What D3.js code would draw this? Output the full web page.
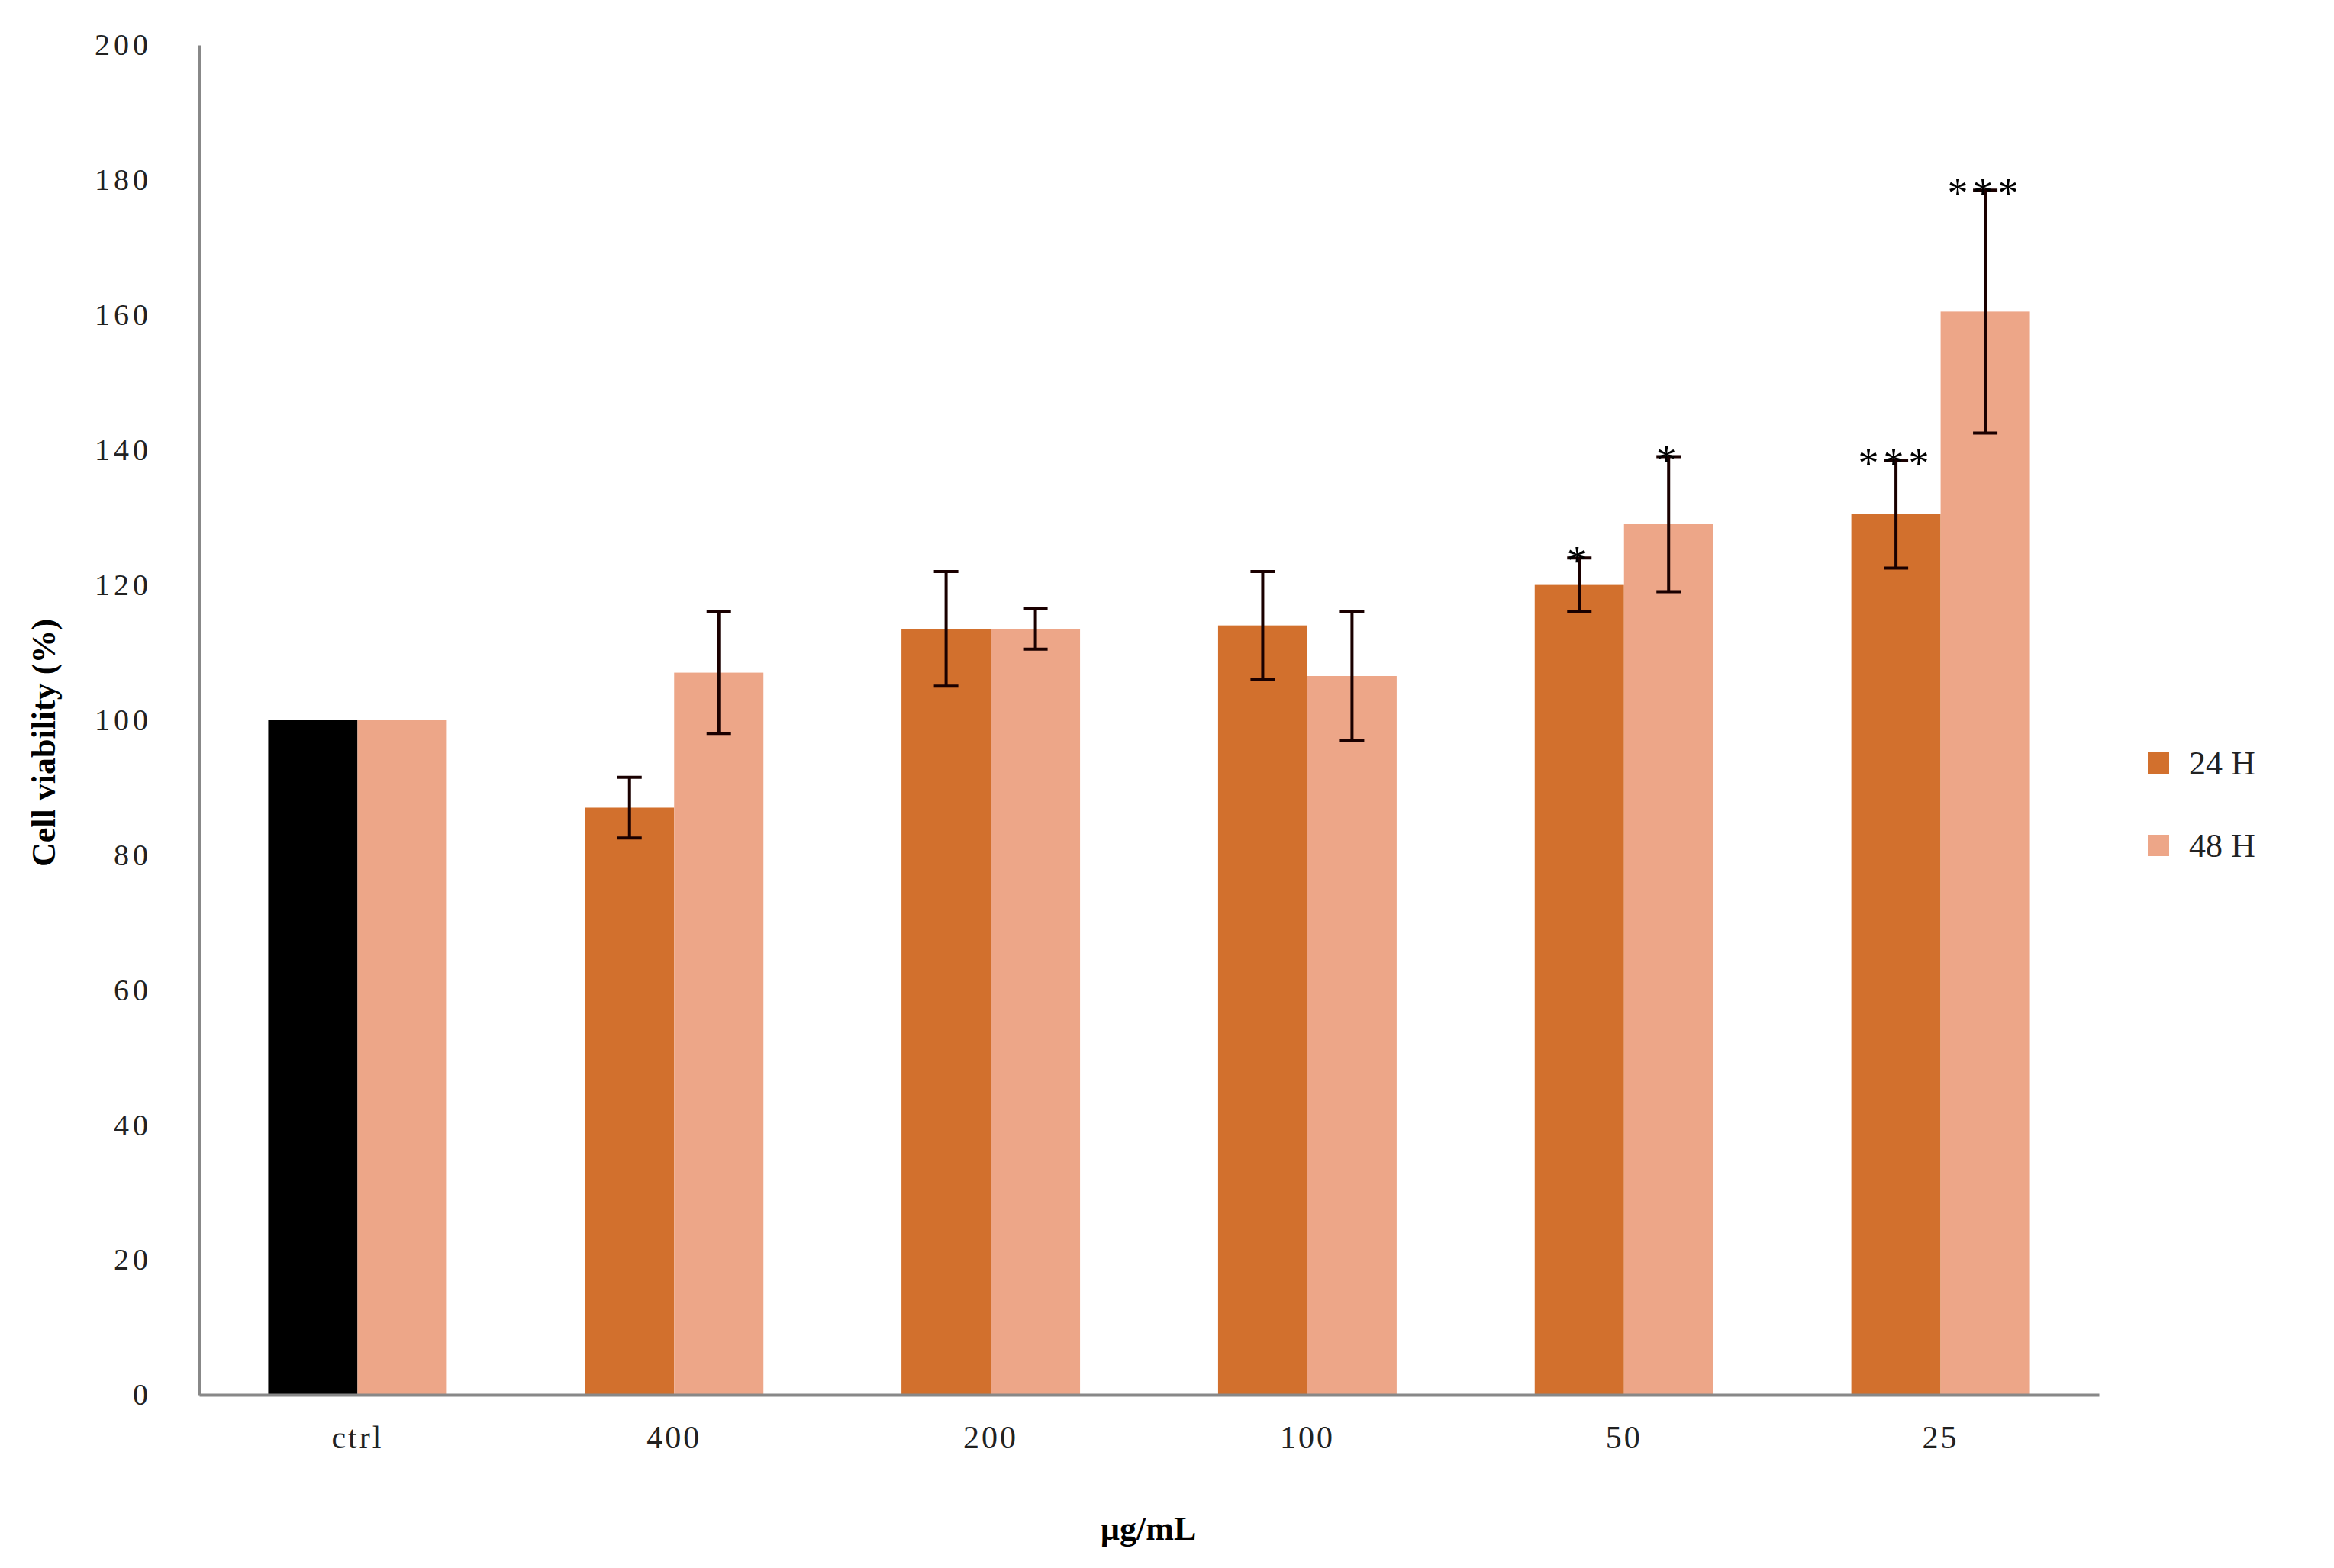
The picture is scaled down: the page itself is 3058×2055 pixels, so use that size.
<!DOCTYPE html>
<html><head><meta charset="utf-8">
<script src="https://cdn.jsdelivr.net/npm/d3@7"></script>
<style>body{margin:0;background:#fff}text{font-family:"Liberation Serif","Times New Roman",serif}</style>
</head><body>
<svg id="chart" width="3058" height="2055"></svg>
<script>
var categories = ["ctrl","400","200","100","50","25"]
var series = ["24 H","48 H"]
var values24 = [100, 87, 113.5, 114, 120, 130.5]
var err24 = [0, 4.5, 8.5, 8, 4, 8]
var values48 = [100, 107, 113.5, 106.5, 129, 160.5]
var err48 = [0, 9, 3, 9.5, 10, 18]
var stars24 = ["", "", "", "", "*", "***"]
var stars48 = ["", "", "", "", "*", "***"]
var yTicks = [0,20,40,60,80,100,120,140,160,180,200]

var colors = {"24 H":"#d2702d","48 H":"#eda688"}
var svg = d3.select("#chart")
var pLeft = 261, pRight = 2750, pTop = 59, pBottom = 1828

var x = d3.scaleBand().domain(categories).range([pLeft, pRight]).paddingInner(0.436).paddingOuter(0.218)
var xs = d3.scaleBand().domain(series).range([0, x.bandwidth()])
var y = d3.scaleLinear().domain([0,200]).range([pBottom, pTop])

var rows = []
categories.forEach(function(c,i){
  rows.push({cat:c, s:"24 H", v:values24[i], e:err24[i], star:stars24[i], ctrl:i==0})
  rows.push({cat:c, s:"48 H", v:values48[i], e:err48[i], star:stars48[i], ctrl:false})
})

svg.selectAll(".bar").data(rows).enter().append("rect")
  .attr("x", function(d){ return x(d.cat) + xs(d.s) })
  .attr("width", xs.bandwidth())
  .attr("y", function(d){ return y(d.v) })
  .attr("height", function(d){ return y(0) - y(d.v) })
  .attr("fill", function(d){ return d.ctrl ? "#000" : colors[d.s] })

var eb = rows.filter(function(d){ return d.e > 0 })
var cx = function(d){ return x(d.cat) + xs(d.s) + xs.bandwidth()/2 }
var g = svg.append("g").attr("stroke","#1a0000").attr("stroke-width",4)
g.selectAll(".v").data(eb).enter().append("line")
  .attr("x1",cx).attr("x2",cx)
  .attr("y1",function(d){ return y(d.v+d.e) }).attr("y2",function(d){ return y(d.v-d.e) })
g.selectAll(".t").data(eb).enter().append("line")
  .attr("x1",function(d){ return cx(d)-16 }).attr("x2",function(d){ return cx(d)+16 })
  .attr("y1",function(d){ return y(d.v+d.e) }).attr("y2",function(d){ return y(d.v+d.e) })
g.selectAll(".b").data(eb).enter().append("line")
  .attr("x1",function(d){ return cx(d)-16 }).attr("x2",function(d){ return cx(d)+16 })
  .attr("y1",function(d){ return y(d.v-d.e) }).attr("y2",function(d){ return y(d.v-d.e) })

svg.selectAll(".star").data(rows.filter(function(d){ return d.star })).enter().append("text")
  .attr("x",cx).attr("y",function(d){ return y(d.v+d.e) + 22 })
  .attr("text-anchor","middle").attr("font-size",54).attr("letter-spacing",6)
  .text(function(d){ return d.star })

// axes
var ya = svg.append("g").attr("transform","translate("+pLeft+",0)")
  .call(d3.axisLeft(y).tickValues(yTicks).tickSize(0).tickPadding(62))
ya.select(".domain").attr("stroke","#888").attr("stroke-width",4)
ya.selectAll("text").attr("font-size",40).attr("letter-spacing",5).attr("fill","#222")

var xa = svg.append("g").attr("transform","translate(0,"+pBottom+")")
  .call(d3.axisBottom(x).tickSize(0).tickPadding(40))
xa.select(".domain").attr("stroke","#888").attr("stroke-width",4)
xa.selectAll("text").attr("font-size",42).attr("letter-spacing",3).attr("fill","#222")

svg.append("text").attr("transform","translate(72,"+((pTop+pBottom)/2+30)+") rotate(-90)")
  .attr("text-anchor","middle").attr("font-size",44).attr("font-weight","bold").text("Cell viability (%)")
svg.append("text").attr("x",(pLeft+pRight)/2 - 1).attr("y",2018)
  .attr("text-anchor","middle").attr("font-size",44).attr("font-weight","bold").text("µg/mL")

var lg = svg.selectAll(".lg").data(series).enter().append("g")
  .attr("transform",function(d,i){ return "translate(2828,"+(1000+i*108)+")" })
lg.append("rect").attr("x",-14).attr("y",-14).attr("width",28).attr("height",28)
  .attr("fill",function(d){ return colors[d] })
lg.append("text").attr("x",40).attr("y",15).attr("font-size",44).attr("fill","#222").text(function(d){ return d })
</script>
</body></html>
